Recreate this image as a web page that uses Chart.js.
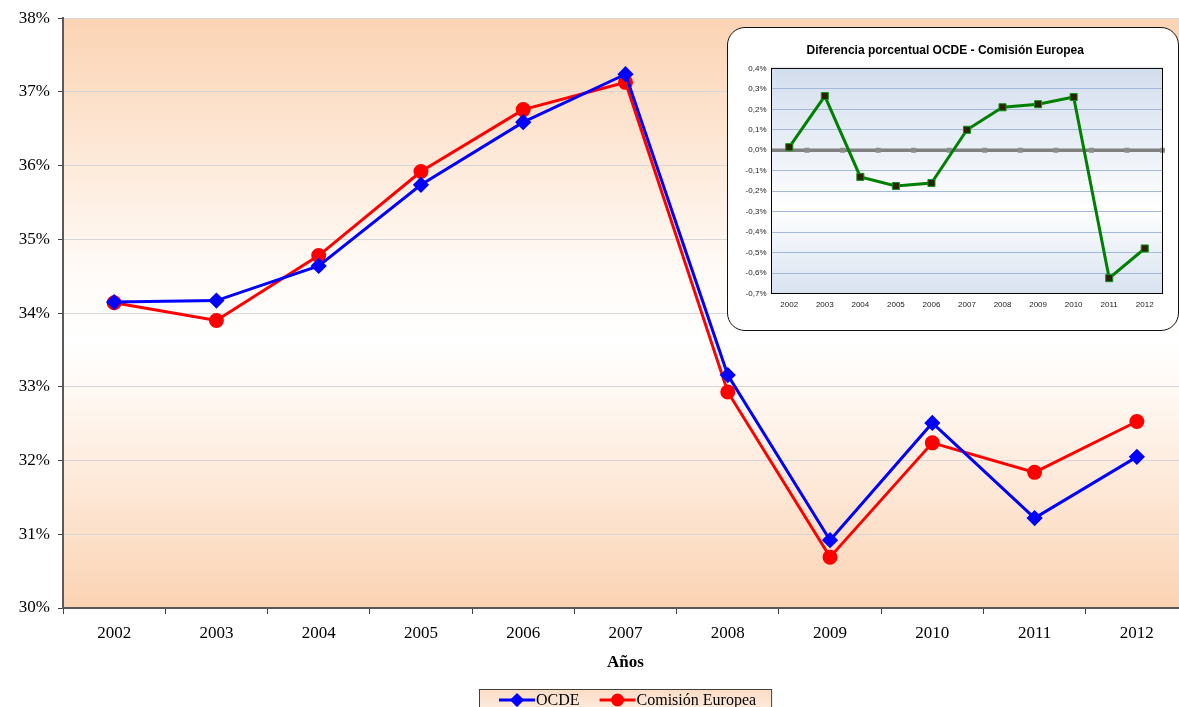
<!DOCTYPE html>
<html lang="es">
<head>
<meta charset="utf-8">
<script src="https://cdn.jsdelivr.net/npm/chart.js@4.4.1/dist/chart.umd.min.js"></script>
<style>
  html, body { margin: 0; padding: 0; overflow: hidden; background: #fff; }
  #wrap { position: relative; width: 1200px; height: 707px; }
  #mainChart { position: absolute; left: 0; top: 0; }
  #inset {
    position: absolute; left: 727px; top: 27px;
    width: 450px; height: 302px;
    border: 1.5px solid #111; border-radius: 18px;
    background: #fff; overflow: hidden;
  }
</style>
</head>
<body>
<div id="wrap">
  <canvas id="mainChart" width="1200" height="707"></canvas>
  <div id="inset"><canvas id="diffChart" width="450" height="302"></canvas></div>
</div>
<script>
const years = ['2002', '2003', '2004', '2005', '2006', '2007', '2008', '2009', '2010', '2011', '2012'];
const ocde = [34.15, 34.17, 34.64, 35.74, 36.59, 37.24, 33.16, 30.92, 32.51, 31.22, 32.05];
const comision = [34.14, 33.90, 34.78, 35.92, 36.76, 37.13, 32.93, 30.69, 32.24, 31.84, 32.53];
const diferencia = [0.015, 0.265, -0.13, -0.175, -0.16, 0.10, 0.21, 0.225, 0.26, -0.625, -0.48];

const serif = "'Liberation Serif', 'Times New Roman', serif";
const sans = "'Liberation Sans', Arial, sans-serif";

// fills the plot area with a vertical gradient
function areaGradient(id, stops) {
  return {
    id: id,
    beforeDraw(chart) {
      const { ctx, chartArea: a } = chart;
      const g = ctx.createLinearGradient(0, a.top, 0, a.bottom);
      stops.forEach(s => g.addColorStop(s[0], s[1]));
      ctx.save();
      ctx.fillStyle = g;
      ctx.fillRect(a.left, a.top, a.right - a.left, a.bottom - a.top);
      ctx.restore();
    }
  };
}

// boxed legend under the axis title, line + marker per series
const boxLegend = {
  id: 'boxLegend',
  afterDraw(chart) {
    const { ctx, chartArea: a } = chart;
    ctx.save();
    ctx.font = '16px ' + serif;
    const items = chart.data.datasets.map(ds => ({ ds, w: ctx.measureText(ds.label).width }));
    const lineW = 36, padL = 20, padR = 15, gap = 20;
    let total = padL + padR;
    items.forEach((it, i) => { total += lineW + 1 + it.w + (i ? gap : 0); });
    const cx = (a.left + a.right) / 2;
    const bx = Math.round(cx - total / 2), by = chart.height - 18, bh = 24;
    const g = ctx.createLinearGradient(0, by, 0, by + bh);
    g.addColorStop(0, '#fbdcc4');
    g.addColorStop(1, '#fdeee3');
    ctx.fillStyle = g;
    ctx.fillRect(bx, by, total, bh);
    ctx.strokeStyle = '#404040';
    ctx.lineWidth = 1;
    ctx.strokeRect(bx + 0.5, by + 0.5, total, bh);
    let x = bx + padL;
    const y = by + 11;
    items.forEach((it, i) => {
      if (i) x += gap;
      const ds = it.ds;
      ctx.strokeStyle = ds.borderColor;
      ctx.lineWidth = 3;
      ctx.beginPath();
      ctx.moveTo(x, y);
      ctx.lineTo(x + lineW, y);
      ctx.stroke();
      ctx.fillStyle = ds.pointBackgroundColor;
      ctx.strokeStyle = ds.pointBorderColor;
      Chart.helpers.drawPoint(ctx, { pointStyle: ds.pointStyle, radius: ds.pointRadius - 1, borderWidth: 1, rotation: 0 }, x + lineW / 2, y);
      x += lineW + 1;
      ctx.fillStyle = '#000';
      ctx.textBaseline = 'middle';
      ctx.fillText(ds.label, x, y + 1);
      x += it.w;
    });
    ctx.restore();
  }
};

new Chart(document.getElementById('mainChart'), {
  type: 'line',
  data: {
    labels: years,
    datasets: [
      {
        label: 'OCDE',
        data: ocde,
        borderColor: '#0000ff',
        borderWidth: 3,
        pointStyle: 'rectRot',
        pointRadius: 6,
        pointBackgroundColor: '#0000ff',
        pointBorderColor: '#0000ff',
        tension: 0
      },
      {
        label: 'Comisión Europea',
        data: comision,
        borderColor: '#ff0000',
        borderWidth: 3,
        pointStyle: 'circle',
        pointRadius: 6,
        pointBackgroundColor: '#ff0000',
        pointBorderColor: '#ff0000',
        tension: 0
      }
    ]
  },
  options: {
    responsive: false,
    animation: false,
    layout: { padding: { top: 17, right: 12, left: 0, bottom: 0 } },
    plugins: {
      legend: { display: false },
      tooltip: { enabled: false }
    },
    scales: {
      x: {
        offset: true,
        grid: { offset: true, drawOnChartArea: false, tickLength: 6, color: '#404040' },
        border: { color: '#595959', width: 2 },
        ticks: { font: { family: serif, size: 17 }, color: '#000', padding: 9 },
        title: {
          display: true,
          text: 'Años',
          font: { family: serif, size: 17, weight: 'bold' },
          color: '#000',
          padding: { top: 34, bottom: 34 }
        },
        afterFit(s) { s.height = 99; }
      },
      y: {
        min: 30,
        max: 38,
        ticks: { stepSize: 1, callback: v => v + '%', font: { family: serif, size: 17 }, color: '#000', padding: 8 },
        grid: { color: '#d6d6d6', tickColor: '#404040', tickLength: 5 },
        border: { color: '#595959', width: 2 },
        afterFit(s) { s.width = 63; }
      }
    }
  },
  plugins: [
    areaGradient('mainBg', [[0, '#fbd3b3'], [0.42, '#fffaf6'], [0.55, '#ffffff'], [0.62, '#fffaf6'], [1, '#fbd3b3']]),
    boxLegend
  ]
});

// gray zero line with small marks at the category boundaries
const zeroAxis = {
  id: 'zeroAxis',
  beforeDatasetsDraw(chart) {
    const { ctx, chartArea: a, scales } = chart;
    const y0 = scales.y.getPixelForValue(0);
    ctx.save();
    ctx.strokeStyle = '#808080';
    ctx.lineWidth = 3.5;
    ctx.beginPath();
    ctx.moveTo(a.left, y0);
    ctx.lineTo(a.right, y0);
    ctx.stroke();
    ctx.fillStyle = '#8c8c8c';
    const n = chart.data.labels.length;
    for (let i = 1; i <= n; i++) {
      const x = i < n
        ? (scales.x.getPixelForValue(i - 1) + scales.x.getPixelForValue(i)) / 2
        : a.right;
      ctx.fillRect(x - 2.5, y0 - 2.5, 5, 5);
    }
    ctx.strokeStyle = '#000';
    ctx.lineWidth = 1;
    ctx.strokeRect(a.left, a.top, a.right - a.left, a.bottom - a.top);
    ctx.restore();
  }
};

const pct = v => (Math.abs(v) < 1e-9 ? 0 : v).toFixed(1).replace('.', ',') + '%';

new Chart(document.getElementById('diffChart'), {
  type: 'line',
  data: {
    labels: years,
    datasets: [{
      label: 'Diferencia',
      data: diferencia,
      borderColor: '#008000',
      borderWidth: 3,
      pointStyle: 'rect',
      pointRadius: 5,
      pointBackgroundColor: '#2b2200',
      pointBorderColor: '#129612',
      pointBorderWidth: 1,
      tension: 0
    }]
  },
  options: {
    responsive: false,
    animation: false,
    layout: { padding: { top: 0, right: 15.5, left: 0, bottom: 0 } },
    plugins: {
      legend: { display: false },
      tooltip: { enabled: false },
      title: {
        display: true,
        text: 'Diferencia porcentual OCDE - Comisión Europea',
        font: { family: sans, size: 12, weight: 'bold' },
        color: '#000',
        padding: { top: 15, bottom: 11 }
      }
    },
    scales: {
      x: {
        offset: true,
        grid: { display: false },
        border: { color: '#000', width: 1 },
        ticks: { font: { family: sans, size: 8 }, color: '#222', padding: -2 },
        afterFit(s) { s.height = 36.5; }
      },
      y: {
        min: -0.7,
        max: 0.4,
        ticks: { stepSize: 0.1, callback: pct, font: { family: sans, size: 8 }, color: '#222', padding: 5 },
        grid: { color: '#a3b8da', drawTicks: false },
        border: { color: '#000', width: 1 },
        afterFit(s) { s.width = 43.5; }
      }
    }
  },
  plugins: [
    areaGradient('diffBg', [[0, '#d3deee'], [0.4, '#eef2f8'], [0.62, '#ffffff'], [1, '#d8e2f0']]),
    zeroAxis
  ]
});
</script>
</body>
</html>
